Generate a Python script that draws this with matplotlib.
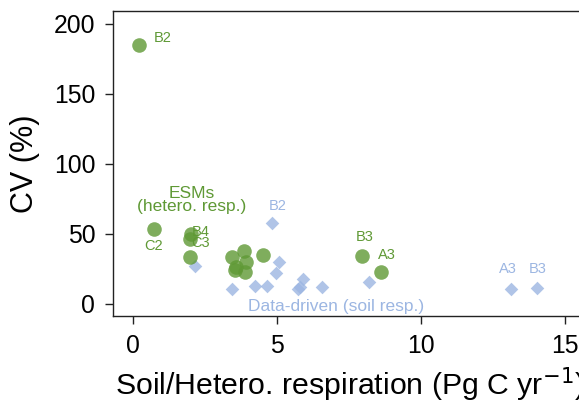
import matplotlib
matplotlib.use('Agg')
import matplotlib.pyplot as plt

plt.rcParams['font.family'] = ['Liberation Sans', 'DejaVu Sans']

# ESMs (heterotrophic respiration)
esm_x = [0.20, 0.71, 1.99, 1.96, 1.98, 3.44, 3.84, 3.90, 3.57, 3.54, 3.88, 4.51, 7.93, 8.60]
esm_cv = [185, 53.4, 49.8, 46.2, 33.6, 33.1, 37.6, 30.0, 26.0, 24.1, 22.6, 34.8, 34.3, 22.9]

# Data-driven (soil respiration)
dd_x = [4.83, 2.14, 5.06, 4.94, 3.42, 4.23, 4.63, 5.88, 5.72, 5.80, 6.54, 8.19, 13.13, 14.03]
dd_cv = [57.4, 27.2, 30.0, 21.7, 10.3, 12.6, 12.6, 17.4, 10.5, 12.0, 11.7, 15.7, 10.5, 11.0]

# point labels: (text, x, y)
esm_labels = [('B2', 1.02, 189.6), ('C2', 0.71, 41.4), ('B4', 2.35, 51.0),
              ('C3', 2.35, 43.5), ('B3', 8.02, 47.6), ('A3', 8.82, 34.6)]
dd_labels = [('B2', 5.02, 69.8), ('A3', 13.02, 24.8), ('B3', 14.03, 24.8)]

green = '#5f9935'
blue = '#9cb6e2'

fig = plt.figure(figsize=(5.79, 4.01), dpi=100)
# the original panel runs a little past the right edge of the picture
ax = fig.add_axes([0.1957, 0.212, 0.818, 0.7613])

ax.scatter(dd_x, dd_cv, marker='D', s=48, color=blue, alpha=0.8, linewidths=0, zorder=2)
ax.scatter(esm_x, esm_cv, marker='o', s=110, color=green, alpha=0.8, linewidths=0, zorder=3)

for t, x, y in esm_labels:
    ax.text(x, y, t, color=green, fontsize=10.5, ha='center', va='center')
for t, x, y in dd_labels:
    ax.text(x, y, t, color=blue, fontsize=10.5, ha='center', va='center')

ax.text(2.03, 74, 'ESMs\n(hetero. resp.)', color=green, fontsize=12.5,
        ha='center', va='center', linespacing=0.9)
ax.text(7.03, -2, 'Data-driven (soil resp.)', color=blue, fontsize=12.5,
        ha='center', va='center')

ax.set_xlim(-0.69, 15.75)
ax.set_ylim(-8.8, 209.3)
ax.set_xticks([0, 5, 10, 15])
ax.set_yticks([0, 50, 100, 150, 200])

ax.spines['right'].set_visible(False)
for s in ['left', 'top', 'bottom']:
    ax.spines[s].set_linewidth(1.0)
    ax.spines[s].set_color('#222222')
ax.tick_params(direction='out', length=5.5, width=1.0, labelsize=17.8, colors='#222222',
               labelcolor='black', pad=7.5)

ax.set_xlabel('Soil/Hetero. respiration (Pg C yr$^{-1}$)', fontsize=21.8, labelpad=5.5)
ax.set_ylabel('CV (%)', fontsize=22, labelpad=10)

fig.savefig('out.png', dpi=100)
